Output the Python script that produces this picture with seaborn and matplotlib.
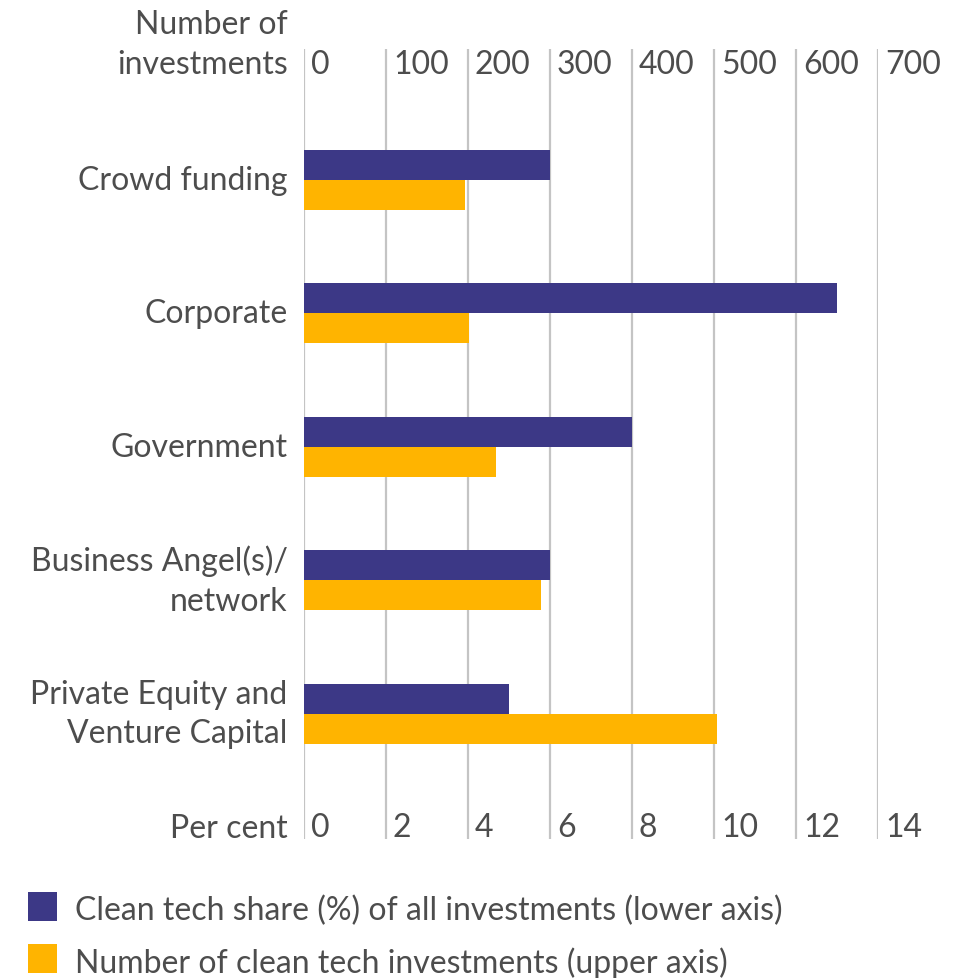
import matplotlib
matplotlib.use("Agg")
import matplotlib.pyplot as plt
import matplotlib.transforms as mtransforms
from matplotlib.patches import Rectangle
import pandas as pd
import seaborn as sns

# Clean tech investments by investor type
categories = ["Crowd funding", "Corporate", "Government",
              "Business Angel(s)/\nnetwork", "Private Equity and\nVenture Capital"]
share_pct = [6, 13, 8, 6, 5]              # lower axis, per cent
n_investments = [196, 201, 234, 289, 504]  # upper axis, count

pct_ticks = [0, 2, 4, 6, 8, 10, 12, 14]
num_ticks = [0, 100, 200, 300, 400, 500, 600, 700]

series_pct = "Clean tech share (%) of all investments (lower axis)"
series_num = "Number of clean tech investments (upper axis)"

PURPLE = "#3c3886"
ORANGE = "#ffb400"
TEXT = "#4d4d4d"
GRID = "#c4c4c4"

sns.set_theme(style="white")
plt.rcParams["font.family"] = ["Lato", "DejaVu Sans"]
FS = 23

df_pct = pd.DataFrame({"category": categories, "value": share_pct, "series": series_pct})
df_num = pd.DataFrame({"category": categories, "value": n_investments, "series": series_num})
hue_order = [series_pct, series_num]
palette = {series_pct: PURPLE, series_num: ORANGE}

fig = plt.figure(figsize=(9.76, 9.79), dpi=100)
W, H = 976, 979
ax = fig.add_axes([304 / W, 1 - 840 / H, (878 - 304) / W, 790 / H])
ax2 = ax.twiny()

sns.barplot(data=df_pct, x="value", y="category", hue="series", hue_order=hue_order,
            palette=palette, orient="h", width=0.45, dodge=True, legend=False,
            saturation=1, linewidth=0, ax=ax, zorder=3)
sns.barplot(data=df_num, x="value", y="category", hue="series", hue_order=hue_order,
            palette=palette, orient="h", width=0.45, dodge=True, legend=False,
            saturation=1, linewidth=0, ax=ax2, zorder=3)

ax.set_xlim(0, 14)
ax2.set_xlim(0, 700)
for a in (ax, ax2):
    a.set_ylim(4.94, -0.982)
    a.set_xlabel("")
    a.set_ylabel("")
    for s in a.spines.values():
        s.set_visible(False)
    a.tick_params(length=0)
    a.set_xticks([])
    a.set_yticks([])

# vertical gridlines spanning the full plot height
for t in pct_ticks:
    ax.axvline(t, color=GRID, lw=1.6, zorder=0)

# tick labels placed just right of each gridline
shift = mtransforms.ScaledTranslation(7 / 100, 0, fig.dpi_scale_trans)
for t in pct_ticks:
    ax.text(t, 0.015, f"{t}", transform=ax.get_xaxis_transform() + shift, ha="left",
            va="center", fontsize=FS, color=TEXT)
for t in num_ticks:
    ax2.text(t, 0.9805, f"{t}", transform=ax2.get_xaxis_transform() + shift, ha="left",
             va="center", fontsize=FS, color=TEXT)

# category labels
for i, c in enumerate(categories):
    ax.text(-0.4, i, c, ha="right", va="center", fontsize=FS, color=TEXT,
            linespacing=1.4, transform=ax.transData)

fig.text(288 / W, 1 - 45 / H, "Number of\ninvestments", ha="right", va="center",
         fontsize=FS, color=TEXT, linespacing=1.4)
fig.text(288 / W, 1 - 829 / H, "Per cent", ha="right", va="center",
         fontsize=FS, color=TEXT)

# legend: colour swatches with labels
for (label, color), top in zip([(series_pct, PURPLE), (series_num, ORANGE)], [893, 945]):
    fig.add_artist(Rectangle((28 / W, 1 - (top + 29) / H), 29 / W, 29 / H,
                             facecolor=color, edgecolor="none",
                             transform=fig.transFigure))
    fig.text(75 / W, 1 - (top + 18) / H, label, ha="left", va="center",
             fontsize=FS, color=TEXT)

fig.savefig("out.png", dpi=100, facecolor="white")
